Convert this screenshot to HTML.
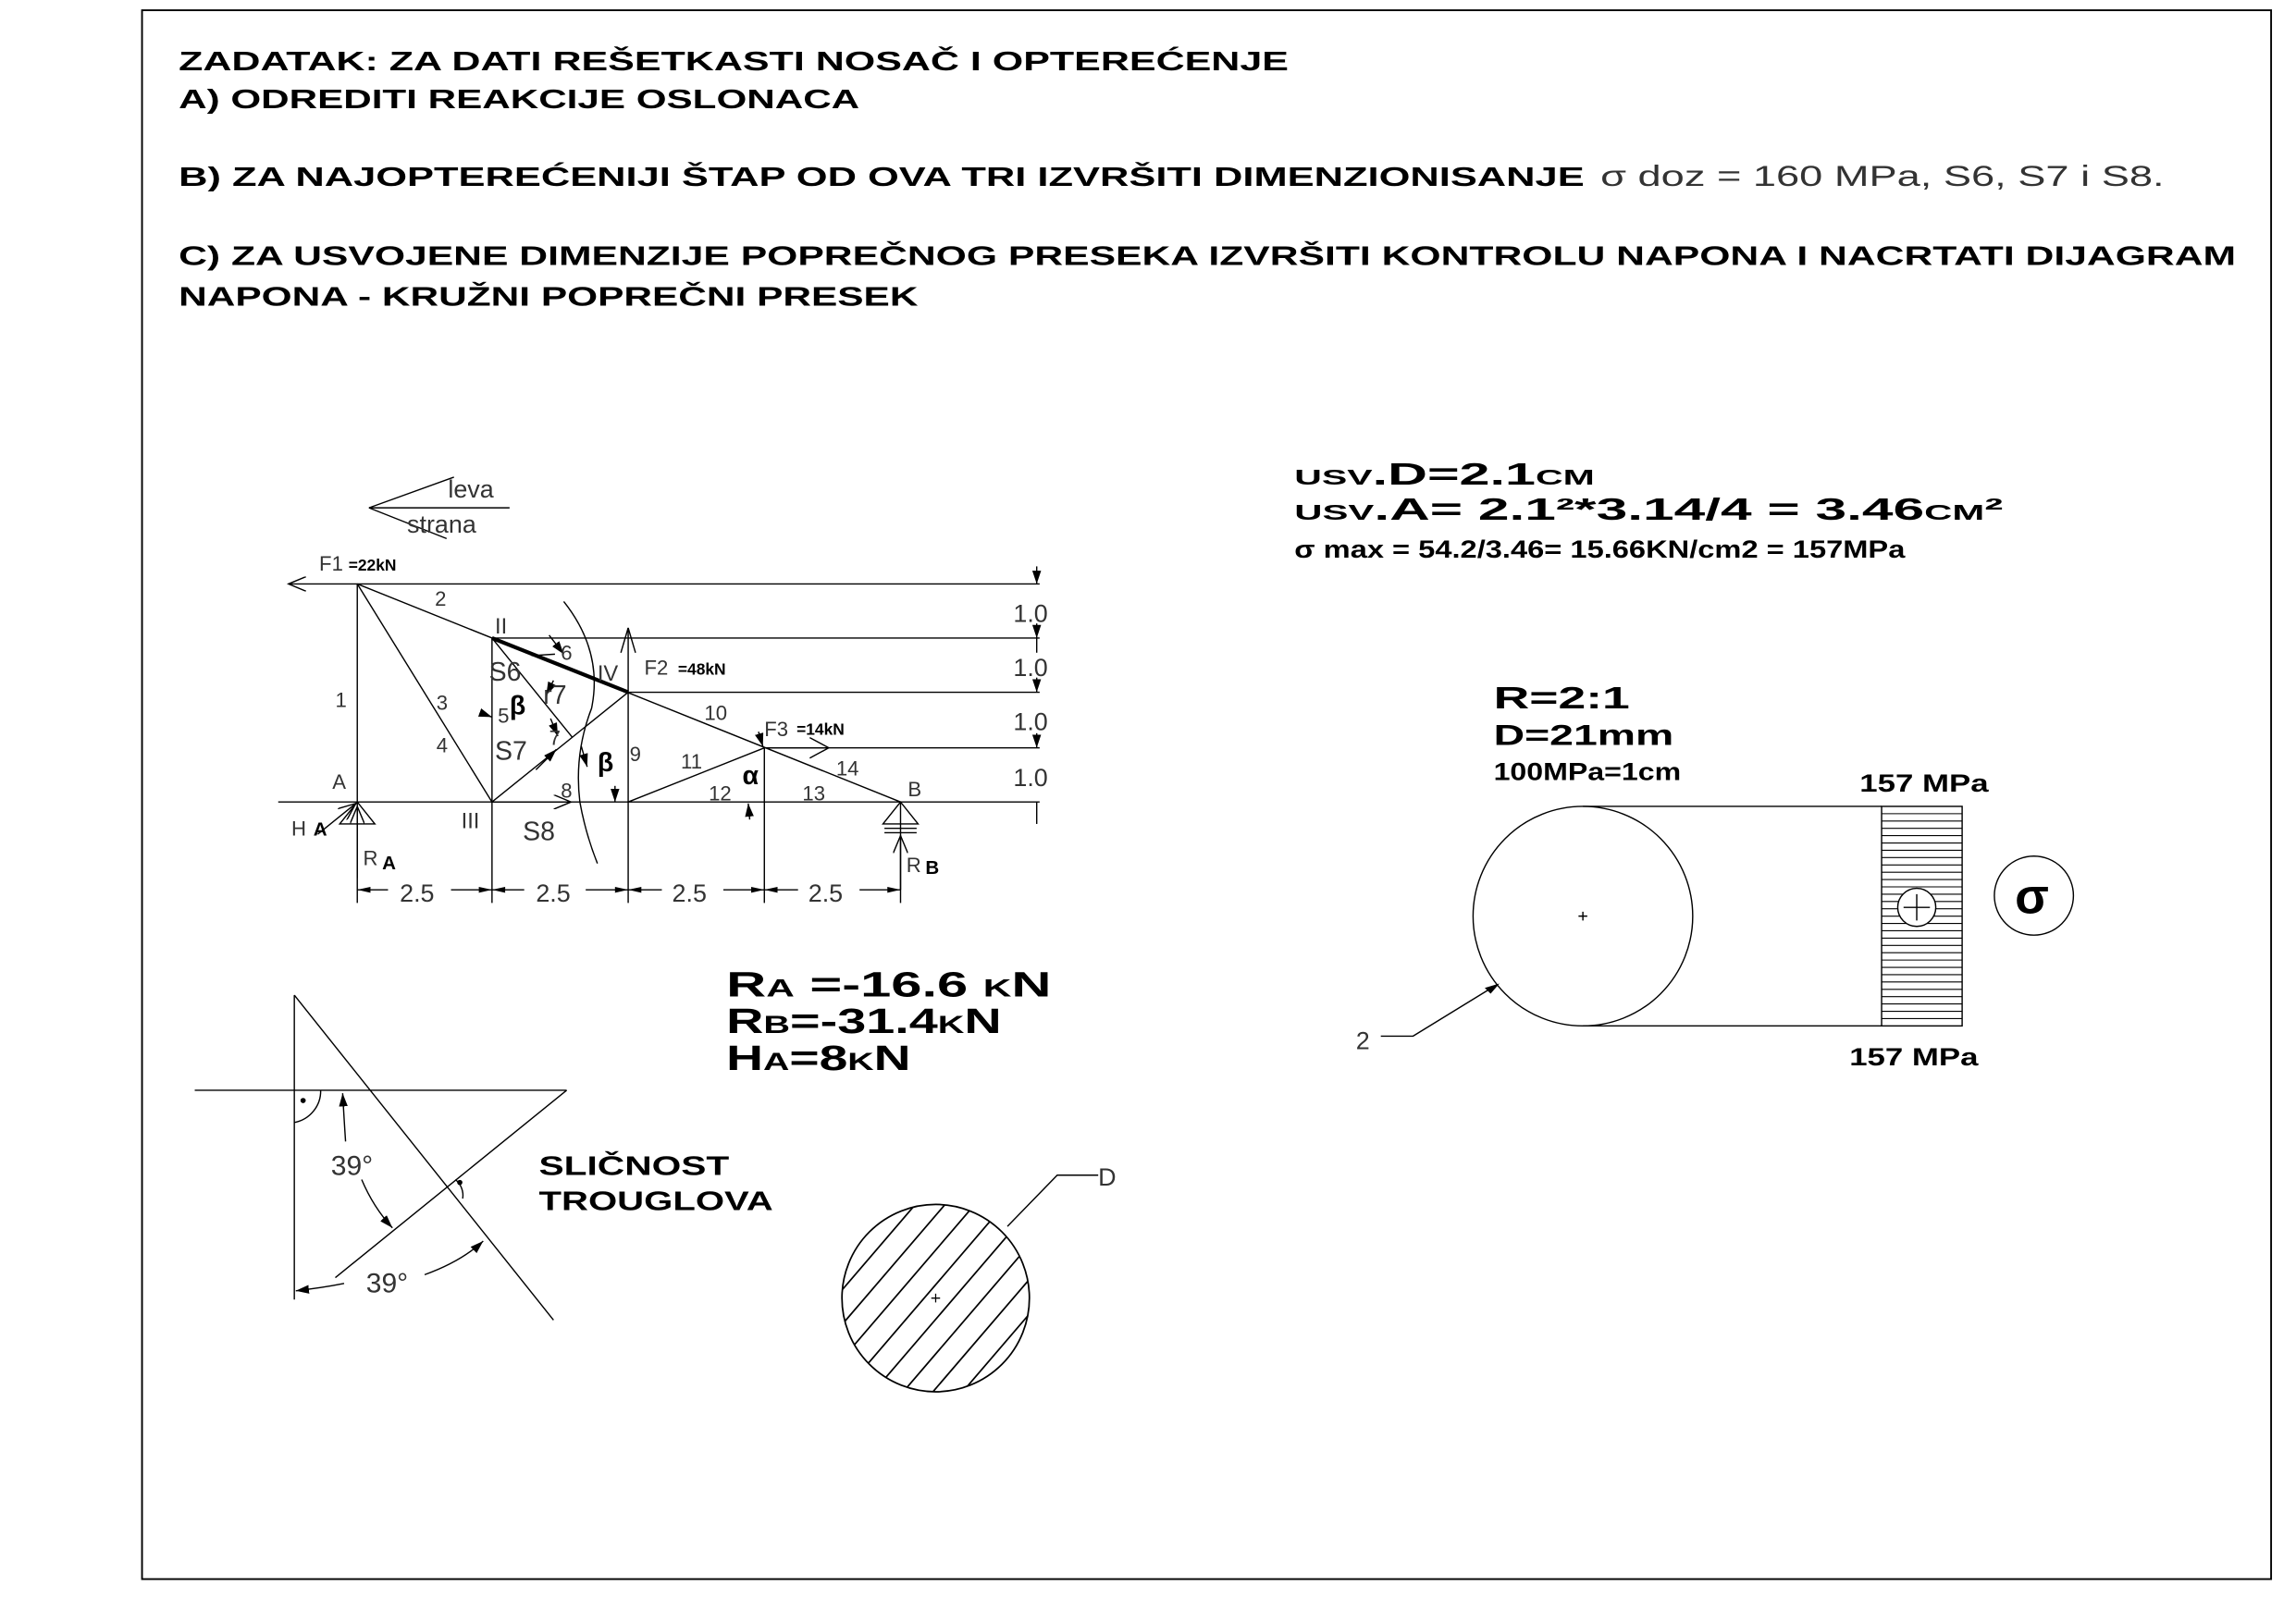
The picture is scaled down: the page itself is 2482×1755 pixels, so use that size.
<!DOCTYPE html>
<html><head><meta charset="utf-8"><style>
html,body{margin:0;padding:0;background:#fff;}
svg{display:block;}
.t{font-family:"Liberation Sans",sans-serif;font-weight:bold;font-variant:small-caps;fill:#000;}
.u{font-family:"Liberation Sans",sans-serif;font-weight:bold;text-transform:uppercase;fill:#000;}
.n{font-family:"Liberation Sans",sans-serif;fill:#000;}
.th{font-family:"Liberation Sans",sans-serif;font-weight:300;fill:#333;}
.b{font-family:"Liberation Sans",sans-serif;font-weight:bold;fill:#000;}
</style></head><body>
<svg width="2482" height="1755" viewBox="0 0 1568 1109" preserveAspectRatio="none" xmlns="http://www.w3.org/2000/svg">
<defs>
<marker id="ar" markerWidth="14" markerHeight="10" refX="12" refY="5" orient="auto-start-reverse" markerUnits="userSpaceOnUse">
<path d="M0,0 L12,5 L0,10" fill="none" stroke="#000" stroke-width="0.9"/></marker>
<marker id="af" markerWidth="10" markerHeight="6" refX="9" refY="3" orient="auto-start-reverse" markerUnits="userSpaceOnUse">
<path d="M0,0 L9,3 L0,6 z" fill="#000"/></marker>
</defs>
<rect x="0" y="0" width="1568" height="1109" fill="#fff"/>
<rect x="97" y="7" width="1454" height="1072" fill="none" stroke="#000" stroke-width="1.2"/>

<text class="u" x="122" y="48" font-size="18" textLength="758" lengthAdjust="spacingAndGlyphs">Zadatak: Za dati rešetkasti nosač i opterećenje</text>
<text class="u" x="122" y="74" font-size="18" textLength="465" lengthAdjust="spacingAndGlyphs">a) odrediti reakcije oslonaca</text>
<text class="u" x="122" y="127" font-size="18" textLength="960" lengthAdjust="spacingAndGlyphs">b) za najopterećeniji štap od ova tri izvršiti dimenzionisanje</text>
<text class="th" x="1093" y="127" font-size="20" textLength="385" lengthAdjust="spacingAndGlyphs">σ doz = 160 MPa,   S6, S7 i S8.</text>
<text class="u" x="122" y="181" font-size="18" textLength="1405" lengthAdjust="spacingAndGlyphs">c) za usvojene dimenzije poprečnog preseka izvršiti kontrolu napona i nacrtati dijagram</text>
<text class="u" x="122" y="209" font-size="18" textLength="505" lengthAdjust="spacingAndGlyphs">napona - kružni poprečni presek</text>

<g stroke="#000" stroke-width="0.9" fill="none">
<line x1="252" y1="347" x2="310" y2="326"/>
<line x1="252" y1="347" x2="305" y2="368"/>
<line x1="252" y1="347" x2="348" y2="347"/>
<line x1="197" y1="399" x2="710" y2="399" marker-start="url(#ar)"/>
<line x1="336" y1="436" x2="710" y2="436"/>
<line x1="429" y1="473" x2="710" y2="473"/>
<line x1="522" y1="511" x2="710" y2="511"/>
<line x1="190" y1="548" x2="710" y2="548"/>
<line x1="244" y1="399" x2="244" y2="617"/>
<line x1="244" y1="399" x2="615" y2="548"/>
<line x1="244" y1="399" x2="336" y2="548"/>
<line x1="336" y1="436" x2="336" y2="617"/>
<line x1="336" y1="436" x2="429" y2="473" stroke-width="2.6"/>
<line x1="336" y1="436" x2="391" y2="504"/>
<line x1="336" y1="548" x2="429" y2="473"/>
<line x1="429" y1="429" x2="429" y2="617"/>
<line x1="429" y1="429" x2="424" y2="446"/><line x1="429" y1="429" x2="434" y2="446"/>
<line x1="429" y1="548" x2="522" y2="511"/>
<line x1="522" y1="511" x2="522" y2="617"/>
<line x1="615" y1="548" x2="615" y2="617"/>
<line x1="522" y1="511" x2="566" y2="511"/>
<line x1="566" y1="511" x2="553" y2="504"/><line x1="566" y1="511" x2="553" y2="518"/>
<path d="M385,411 Q412,445 404,484 Q392,515 396,548 Q400,570 408,590"/>
<line x1="375" y1="434" x2="385" y2="447" marker-end="url(#af)"/>
<line x1="363" y1="448" x2="379" y2="447" />
<line x1="378" y1="465" x2="373" y2="475" marker-end="url(#af)"/>
<line x1="376" y1="491" x2="381" y2="503" marker-end="url(#af)"/>
<line x1="328" y1="487" x2="336" y2="490" marker-end="url(#af)"/>
<line x1="366" y1="526" x2="380" y2="512" marker-end="url(#af)"/>
<line x1="336" y1="548" x2="390" y2="548" marker-end="url(#ar)"/>
<line x1="397" y1="510" x2="401" y2="524" marker-end="url(#af)"/>
<line x1="420" y1="537" x2="420" y2="548" marker-end="url(#af)"/>
<line x1="512" y1="560" x2="511" y2="549" marker-end="url(#af)"/>
<line x1="518" y1="500" x2="521" y2="510" marker-end="url(#af)"/>
<path d="M244,548 L232,563 L256,563 Z"/>
<line x1="244" y1="600" x2="244" y2="551" marker-end="url(#ar)"/>
<line x1="217" y1="570" x2="243" y2="549" marker-end="url(#ar)"/>
<path d="M615,548 L603,563 L627,563 Z"/>
<line x1="604" y1="566" x2="626" y2="566"/><line x1="604" y1="569" x2="626" y2="569"/>
<line x1="615" y1="608" x2="615" y2="571" marker-end="url(#ar)"/>
<line x1="708" y1="387" x2="708" y2="399" marker-end="url(#af)"/>
<line x1="708" y1="426" x2="708" y2="436" marker-end="url(#af)"/>
<line x1="708" y1="436" x2="708" y2="446" />
<line x1="708" y1="463" x2="708" y2="473" marker-end="url(#af)"/>
<line x1="708" y1="501" x2="708" y2="511" marker-end="url(#af)"/>
<line x1="708" y1="548" x2="708" y2="563"/>
<line x1="244" y1="608" x2="265" y2="608"/><line x1="308" y1="608" x2="336" y2="608"/>
<line x1="336" y1="608" x2="358" y2="608"/><line x1="400" y1="608" x2="429" y2="608"/>
<line x1="429" y1="608" x2="452" y2="608"/><line x1="494" y1="608" x2="522" y2="608"/>
<line x1="522" y1="608" x2="545" y2="608"/><line x1="587" y1="608" x2="615" y2="608"/>
</g>
<g fill="#000">
<path d="M244,608 l9,-2 v4z M336,608 l-9,-2 v4z M336,608 l9,-2 v4z M429,608 l-9,-2 v4z M429,608 l9,-2 v4z M522,608 l-9,-2 v4z M522,608 l9,-2 v4z M615,608 l-9,-2 v4z"/>
</g>
<g class="th" font-size="17">
<text x="306" y="340">leva</text><text x="278" y="364">strana</text>
<text x="218" y="390" font-size="14">F1</text>
<text x="297" y="414" font-size="14">2</text>
<text x="229" y="483" font-size="14">1</text>
<text x="298" y="485" font-size="14">3</text>
<text x="298" y="514" font-size="14">4</text>
<text x="338" y="433" font-size="15">II</text>
<text x="383" y="451" font-size="14">6</text>
<text x="334" y="465" font-size="18">S6</text>
<text x="371" y="481" font-size="18">r7</text>
<text x="340" y="494" font-size="14">5</text>
<text x="338" y="519" font-size="18">S7</text>
<text x="375" y="509" font-size="14">7</text>
<text x="383" y="545" font-size="14">8</text>
<text x="315" y="566" font-size="15">III</text>
<text x="357" y="574" font-size="18">S8</text>
<text x="408" y="465" font-size="15">IV</text>
<text x="440" y="461" font-size="14">F2</text>
<text x="430" y="520" font-size="14">9</text>
<text x="481" y="492" font-size="14">10</text>
<text x="465" y="525" font-size="14">11</text>
<text x="484" y="547" font-size="14">12</text>
<text x="548" y="547" font-size="14">13</text>
<text x="571" y="530" font-size="14">14</text>
<text x="522" y="503" font-size="14">F3</text>
<text x="227" y="539" font-size="14">A</text>
<text x="620" y="544" font-size="14">B</text>
<text x="199" y="571" font-size="14">H</text>
<text x="248" y="591" font-size="14">R</text>
<text x="619" y="596" font-size="14">R</text>
<text x="273" y="616">2.5</text><text x="366" y="616">2.5</text>
<text x="459" y="616">2.5</text><text x="552" y="616">2.5</text>
<text x="692" y="425">1.0</text><text x="692" y="462">1.0</text>
<text x="692" y="499">1.0</text><text x="692" y="537">1.0</text>
</g>
<g class="b">
<text x="238" y="390" font-size="11">=22kN</text>
<text x="463" y="461" font-size="11">=48kN</text>
<text x="544" y="502" font-size="11">=14kN</text>
<text x="214" y="571" font-size="13">A</text>
<text x="261" y="594" font-size="13">A</text>
<text x="632" y="597" font-size="13">B</text>
<text x="348" y="488" font-size="18">β</text>
<text x="408" y="527" font-size="18">β</text>
<text x="507" y="536" font-size="18">α</text>
</g>

<text class="t" x="496" y="681" font-size="24" textLength="222" lengthAdjust="spacingAndGlyphs">Ra =-16.6 kN</text>
<text class="t" x="496" y="706" font-size="24" textLength="188" lengthAdjust="spacingAndGlyphs">Rb=-31.4kN</text>
<text class="t" x="496" y="731" font-size="24" textLength="126" lengthAdjust="spacingAndGlyphs">Ha=8kN</text>

<g stroke="#000" stroke-width="0.9" fill="none">
<line x1="201" y1="680" x2="201" y2="888"/>
<line x1="133" y1="745" x2="387" y2="745"/>
<line x1="201" y1="680" x2="378" y2="902"/>
<line x1="387" y1="745" x2="229" y2="873"/>
<path d="M201,767 A22,22 0 0 0 219,745"/>
<path d="M311,806 A14,14 0 0 1 316,819"/>
<path d="M236,780 Q235,765 234,747" marker-end="url(#af)"/>
<path d="M247,806 Q255,825 268,839" marker-end="url(#af)"/>
<path d="M235,877 Q220,880 202,882" marker-end="url(#af)"/>
<path d="M290,871 Q315,862 330,848" marker-end="url(#af)"/>
</g>
<circle cx="207" cy="752" r="1.8"/><circle cx="314" cy="808" r="1.8"/>
<text class="th" x="226" y="803" font-size="19">39°</text>
<text class="th" x="250" y="883" font-size="19">39°</text>
<text class="u" x="368" y="803" font-size="18" textLength="130" lengthAdjust="spacingAndGlyphs">sličnost</text>
<text class="u" x="368" y="827" font-size="18" textLength="160" lengthAdjust="spacingAndGlyphs">trouglova</text>

<clipPath id="cc"><circle cx="639" cy="887" r="64"/></clipPath>
<g clip-path="url(#cc)" stroke="#000" stroke-width="1.1">
<path d="M560,970 l120,-140 M576,975 l120,-140 M592,980 l120,-140 M608,985 l120,-140 M624,990 l120,-140 M544,965 l120,-140 M528,960 l120,-140 M512,955 l120,-140 M496,950 l120,-140 M640,995 l120,-140 M656,1000 l120,-140 M480,945 l120,-140"/>
</g>
<circle cx="639" cy="887" r="64" fill="none" stroke="#000" stroke-width="1.1"/>
<path d="M636,887 h6 M639,884 v6" stroke="#000" stroke-width="0.8"/>
<polyline points="688,838 722,803 750,803" fill="none" stroke="#000" stroke-width="0.9"/>
<text class="th" x="750" y="810" font-size="17">D</text>

<text class="t" x="884" y="331" font-size="21" textLength="205" lengthAdjust="spacingAndGlyphs">usv.D=2.1cm</text>
<text class="t" x="884" y="355" font-size="21" textLength="484" lengthAdjust="spacingAndGlyphs">usv.A= 2.1²*3.14/4 = 3.46cm²</text>
<text class="b" x="884" y="381" font-size="17" textLength="417" lengthAdjust="spacingAndGlyphs">σ max = 54.2/3.46= 15.66KN/cm2 = 157MPa</text>
<text class="b" x="1020" y="484" font-size="21" textLength="93" lengthAdjust="spacingAndGlyphs">R=2:1</text>
<text class="b" x="1020" y="509" font-size="20" textLength="123" lengthAdjust="spacingAndGlyphs">D=21mm</text>
<text class="b" x="1020" y="533" font-size="17" textLength="128" lengthAdjust="spacingAndGlyphs">100MPa=1cm</text>
<text class="b" x="1270" y="541" font-size="17" textLength="88" lengthAdjust="spacingAndGlyphs">157  MPa</text>
<text class="b" x="1263" y="728" font-size="17" textLength="88" lengthAdjust="spacingAndGlyphs">157  MPa</text>
<g stroke="#000" stroke-width="0.9" fill="none">
<circle cx="1081" cy="626" r="75"/>
<path d="M1078,626 h6 M1081,623 v6"/>
<line x1="1081" y1="551" x2="1285" y2="551"/>
<line x1="1081" y1="701" x2="1285" y2="701"/>
<rect x="1285" y="551" width="55" height="150"/>
<path d="M1285,556h55M1285,561h55M1285,566h55M1285,571h55M1285,576h55M1285,581h55M1285,586h55M1285,591h55M1285,596h55M1285,601h55M1285,606h55M1285,611h55M1285,616h55M1285,621h55M1285,626h55M1285,631h55M1285,636h55M1285,641h55M1285,646h55M1285,651h55M1285,656h55M1285,661h55M1285,666h55M1285,671h55M1285,676h55M1285,681h55M1285,686h55M1285,691h55M1285,696h55" stroke-width="0.7"/>
<circle cx="1309" cy="620" r="13" fill="#fff"/>
<path d="M1300,620 h18 M1309,611 v18"/>
<circle cx="1389" cy="612" r="27"/>
<polyline points="943,708 965,708 1022,673"/>
</g>
<path d="M1024,672 l-10,3 l4,4z" fill="#000"/>
<text class="th" x="926" y="717" font-size="17">2</text>
<text class="b" x="1376" y="624" font-size="34">σ</text>
</svg>
</body></html>
